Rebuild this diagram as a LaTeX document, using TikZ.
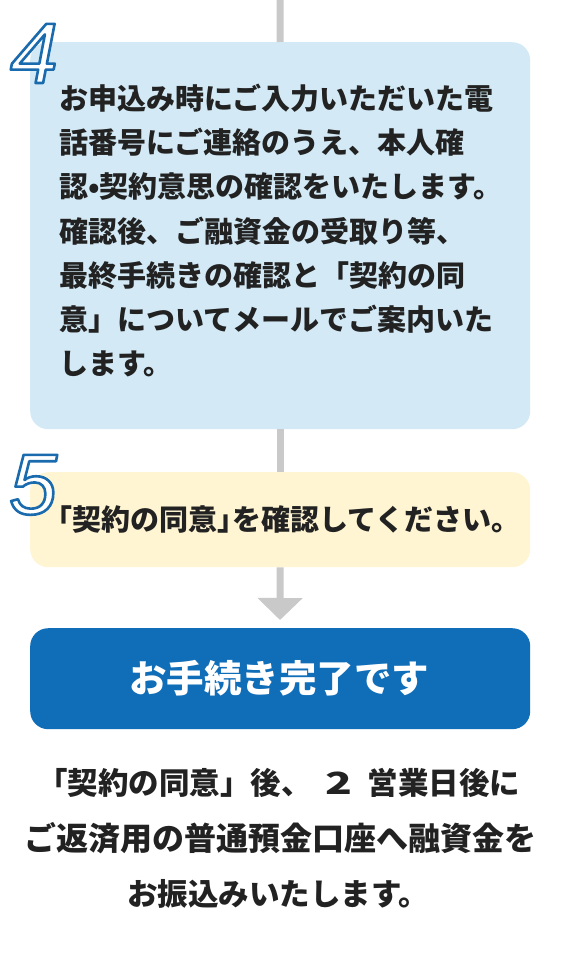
\documentclass[tikz,border=0pt]{standalone}
\usepackage{fontspec}
\usepackage{graphicx}
\usetikzlibrary{arrows.meta}
\newfontfamily\jp{Noto Sans CJK JP}
\newfontfamily\jph{Noto Sans CJK JP}[RawFeature=+halt]
\newfontfamily\numfont{Liberation Sans}
\definecolor{boxblue}{HTML}{D3EAF6}
\definecolor{boxcream}{HTML}{FFF5D3}
\definecolor{donebox}{HTML}{106EB8}
\definecolor{linegray}{HTML}{C9C9C9}
\definecolor{txt}{HTML}{222222}
\newcommand{\outlinedigit}[1]{\special{pdf:code q 0.102 0.416 0.682 RG 2.6 w 1 j 2 Tr}#1\special{pdf:code Q}}
\begin{document}
\begin{tikzpicture}[x=1pt,y=-1pt,
  panel/.style={rounded corners=18pt, inner sep=0pt, anchor=north west, minimum width=500pt},
  conn/.style={draw=linegray, line width=7pt},
  bodytext/.style={anchor=base west, inner sep=0pt, text=txt, font=\jp\bfseries\fontsize{29pt}{29pt}\selectfont},
  bottomtext/.style={anchor=base, inner sep=0pt, text=txt, font=\jp\bfseries\fontsize{30.5pt}{30.5pt}\selectfont},
  stepnum/.style={anchor=base west, inner sep=0pt, text=white, font=\numfont\itshape\fontsize{86pt}{86pt}\selectfont}
]
\useasboundingbox (0,0) rectangle (560,958);
% boxes
\node[panel, fill=boxblue, minimum height=387pt] (b4) at (30,42) {};
\node[panel, fill=boxcream, minimum height=95pt] (b5) at (30,472) {};
\node[panel, fill=donebox, minimum height=101pt] (b6) at (30,628) {};
% connectors
\coordinate (topc) at (280,0);
\coordinate (arrowend) at (280,620);
\draw[conn] (topc) -- (b4.north);
\draw[conn] (b4.south) -- (b5.north);
\draw[conn, -{Triangle[width=44pt,length=22pt]}] (b5.south) -- (arrowend);
% step numbers
\node[stepnum] (n4) at (10,83) {\outlinedigit{4}};
\node[stepnum] (n5) at (9,514) {\outlinedigit{5}};
% box 4 text
\node[bodytext] (l1) at (59,109) {お申込み時にご入力いただいた電};
\node[bodytext] (l2) at (59,153) {話番号にご連絡のうえ、本人確};
\node[bodytext] (l3) at (59,197) {認•契約意思の確認をいたします。};
\node[bodytext] (l4) at (59,242) {確認後、ご融資金の受取り等、};
\node[bodytext] (l5) at (59,286) {最終手続きの確認と「契約の同};
\node[bodytext] (l6) at (59,330) {意」についてメールでご案内いた};
\node[bodytext] (l7) at (59,374) {します。};
% box 5 text
\node[anchor=base west, inner sep=0pt, text=txt, font=\jph\bfseries\fontsize{29pt}{29pt}\selectfont] (t5) at (58,530) {「契約の同意」を確認してください。};
% done text
\node[anchor=base, inner sep=0pt, text=white, font=\jp\bfseries\fontsize{37.5pt}{37.5pt}\selectfont] (t6) at (279,692) {お手続き完了です};
% bottom text
\node[bottomtext, anchor=base west] (m1) at (37,794) {「契約の同意」後、\hspace{0.45em}\scalebox{1.45}[1]{2}\hspace{0.5em}営業日後に};
\node[bottomtext, font=\jp\bfseries\fontsize{32pt}{32pt}\selectfont] (m2) at (280,850) {ご返済用の普通預金口座へ融資金を};
\node[bottomtext] (m3) at (278,905) {お振込みいたします。};
\end{tikzpicture}
\end{document}
